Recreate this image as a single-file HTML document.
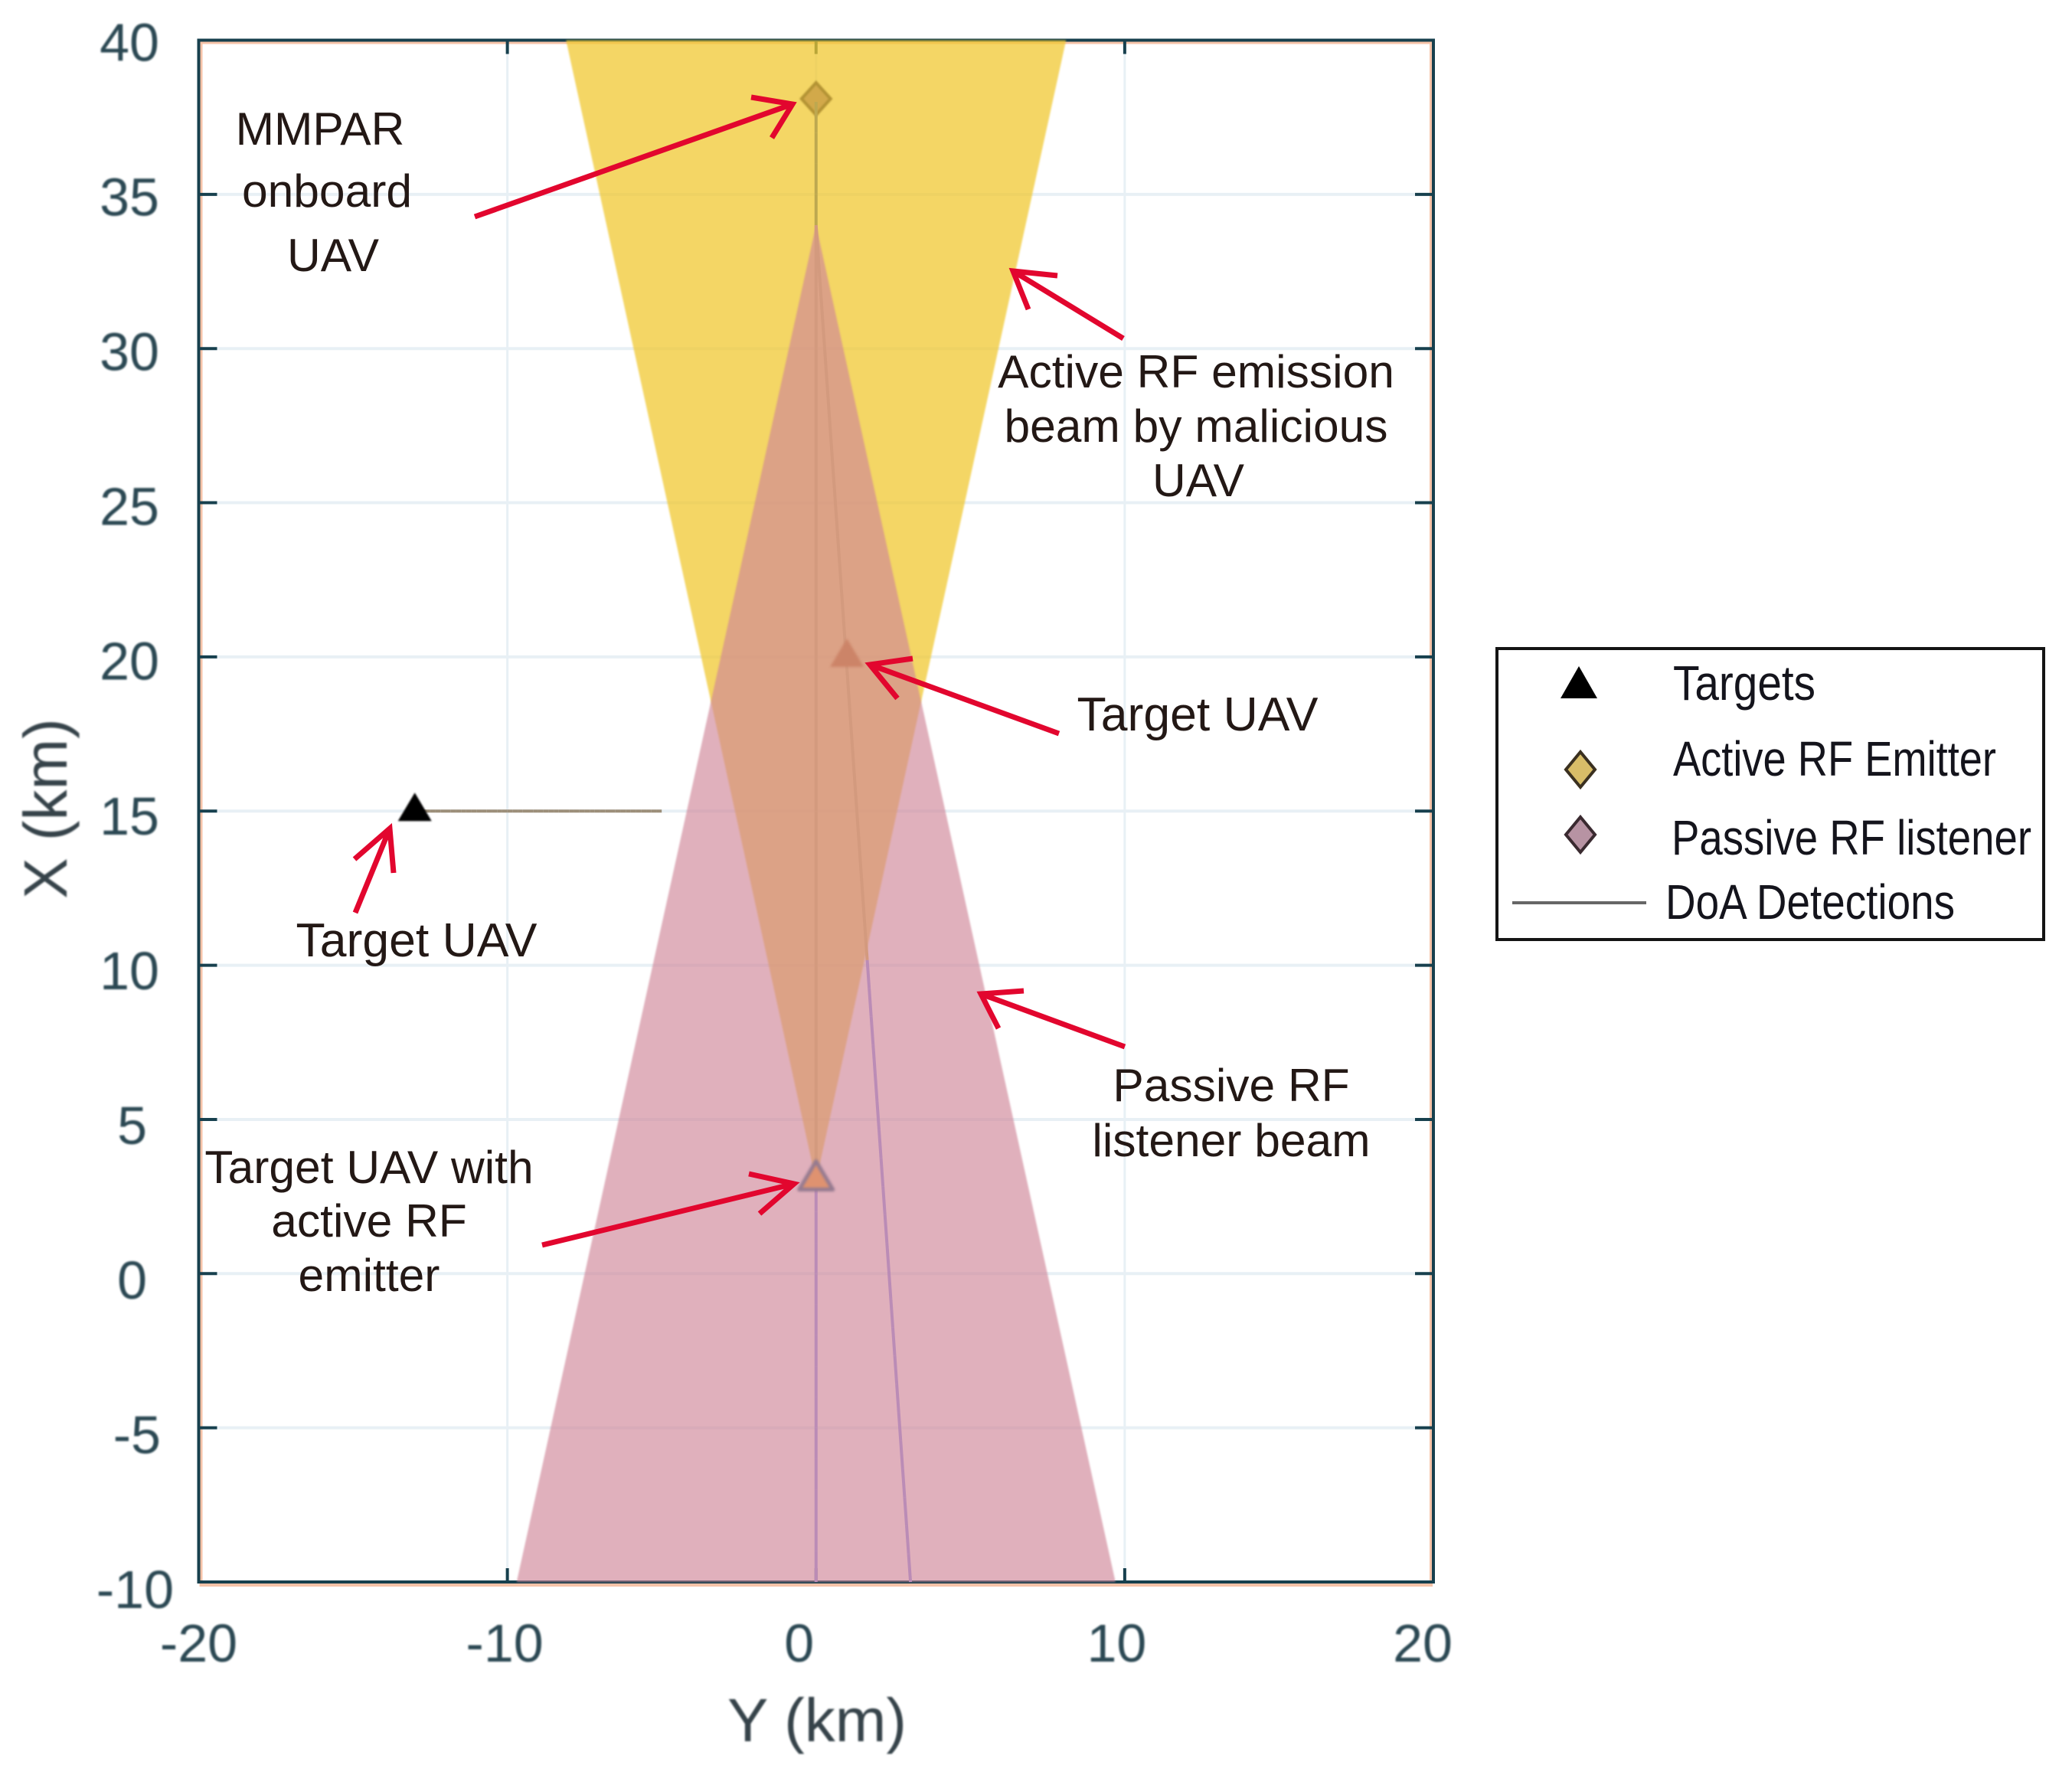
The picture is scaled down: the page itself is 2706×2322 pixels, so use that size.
<!DOCTYPE html>
<html lang="en">
<head>
<meta charset="utf-8">
<title>UAV RF beam geometry chart</title>
<style>
html,body{margin:0;padding:0;background:#fff;width:2706px;height:2322px;overflow:hidden}
svg{display:block}
text{font-family:"Liberation Sans",Arial,sans-serif}
.note{font-size:60.5px;fill:#231815;text-anchor:middle}
.note.wide{font-size:62.5px}
.legend-text{font-size:64px;fill:#14141c}
.tick-label{font-size:70px;fill:#2b4853}
.axis-title{font-size:80px;fill:#36434a;text-anchor:middle}
.soft{filter:blur(1px)}
.softer{filter:blur(1.6px)}
.arrow{fill:none;stroke:#e2062e;stroke-width:7;stroke-linecap:butt;stroke-linejoin:miter}
</style>
</head>
<body>
<svg id="chart" xmlns="http://www.w3.org/2000/svg" width="2706" height="2322" viewBox="0 0 2706 2322">
  <rect x="0" y="0" width="2706" height="2322" fill="#ffffff"/>
  <g id="plot"></g>

  <g>
    <g>
      <text class="note" x="418" y="189">MMPAR</text>
      <text class="note" x="427" y="270">onboard</text>
      <text class="note" x="435" y="354">UAV</text>
    </g>
    <g>
      <text class="note" x="1562" y="506">Active RF emission</text>
      <text class="note" x="1562" y="577">beam by malicious</text>
      <text class="note" x="1565" y="648">UAV</text>
    </g>
    <text class="note wide" x="1564" y="954">Target UAV</text>
    <text class="note wide" x="544" y="1249">Target UAV</text>
    <g>
      <text class="note" x="1608" y="1438">Passive RF</text>
      <text class="note" x="1608" y="1510">listener beam</text>
    </g>
    <g>
      <text class="note" x="482" y="1545">Target UAV with</text>
      <text class="note" x="482" y="1615">active RF</text>
      <text class="note" x="482" y="1686">emitter</text>
    </g>
    <path class="arrow" d="M620 283L1035 136M981 127L1035 136L1008 180"/>
    <path class="arrow" d="M1467 442L1323 354M1381 360L1323 354L1343 404"/>
    <path class="arrow" d="M1383 958L1136 868M1192 860L1136 868L1172 912"/>
    <path class="arrow" d="M464 1192L509 1082M463 1122L509 1082L514 1140"/>
    <path class="arrow" d="M1469 1367L1281 1298M1337 1294L1281 1298L1304 1343"/>
    <path class="arrow" d="M708 1626L1037 1546M978 1533L1037 1546L992 1585"/>
  </g>

  <g>
    <rect x="1955" y="847" width="714" height="380" fill="#ffffff" stroke="#141414" stroke-width="4"/>
    <path d="M2062 870L2086 912L2038 912Z" fill="#000000"/>
    <text class="legend-text" x="2185" y="914" textLength="186" lengthAdjust="spacingAndGlyphs">Targets</text>
    <path d="M2064 982L2083 1005L2064 1028L2045 1005Z" fill="#d8bd68" stroke="#3a3020" stroke-width="4"/>
    <text class="legend-text" x="2185" y="1013" textLength="422" lengthAdjust="spacingAndGlyphs">Active RF Emitter</text>
    <path d="M2064 1067L2083 1090L2064 1113L2045 1090Z" fill="#b793a3" stroke="#3a2a30" stroke-width="4"/>
    <text class="legend-text" x="2183" y="1116" textLength="470" lengthAdjust="spacingAndGlyphs">Passive RF listener</text>
    <line x1="1975" y1="1179" x2="2150" y2="1179" stroke="#666666" stroke-width="4"/>
    <text class="legend-text" x="2175" y="1200" textLength="378" lengthAdjust="spacingAndGlyphs">DoA Detections</text>
  </g>
</svg>

<script>
// Chart data (horizontal axis is Y km, vertical axis is X km)
const yTicks = [-20, -10, 0, 10, 20];
const xTicks = [40, 35, 30, 25, 20, 15, 10, 5, 0, -5, -10];
const activeBeamY = [-8.1, 8.1, 0];
const activeBeamX = [40, 40, 3];
const passiveBeamY = [-9.7, 9.7, 0];
const passiveBeamX = [-10, -10, 34];
const targetY = [-13, 1];
const targetX = [15, 20];
const targetEmitterY = [0];
const targetEmitterX = [3];
const activeEmitterY = [0];
const activeEmitterX = [38.1];
const doaStartY = [0, 0, -13];
const doaStartX = [38, 34, 15];
const doaEndY = [0, 3.06, -5];
const doaEndX = [-10, -10, 15];

const NS = 'http://www.w3.org/2000/svg';
const plot = document.getElementById('plot');
const L = 259.5, R = 1872, T = 52.5, B = 2066;
const yMin = -20, yMax = 20, xMin = -10, xMax = 40;
function sx(v) { return L + (v - yMin) / (yMax - yMin) * (R - L); }
function sy(v) { return B - (v - xMin) / (xMax - xMin) * (B - T); }

function make(tag, parent, props) {
  const el = document.createElementNS(NS, tag);
  for (const k in props) el.setAttribute(k, props[k]);
  parent.appendChild(el);
  return el;
}
function group(name) {
  const g = make('g', plot, {});
  
  
  return g;
}
function inTriangle(py, px, ys, xs) {
  let sign = 0;
  for (let i = 0; i < 3; i++) {
    const j = (i + 1) % 3;
    const c = (ys[j] - ys[i]) * (px - xs[i]) - (xs[j] - xs[i]) * (py - ys[i]);
    if (c !== 0) {
      if (sign !== 0 && Math.sign(c) !== sign) return false;
      sign = Math.sign(c);
    }
  }
  return true;
}
function beamPoints(ys, xs) {
  return ys.map(function (v, i) { return sx(v) + ',' + sy(xs[i]); }).join(' ');
}

// Gridlines
const gridGroup = group('gridlines');
yTicks.slice(1, -1).forEach(function (v) {
  const el = make('line', gridGroup, { x1: sx(v), x2: sx(v), y1: T, y2: B, stroke: '#e8f0f5', 'stroke-width': 3 });
  
  
});
xTicks.slice(1, -1).forEach(function (v) {
  const el = make('line', gridGroup, { x1: L, x2: R, y1: sy(v), y2: sy(v), stroke: '#e8f0f5', 'stroke-width': 4 });
  
  
});

// Axes frame with colour fringe
const axesGroup = group('axes-frame');
make('rect', axesGroup, { x: L + 3, y: T + 3, width: R - L - 6, height: B - T + 1, fill: 'none', stroke: '#f6c3a8', 'stroke-width': 4 });
const frame = make('rect', axesGroup, { x: L, y: T, width: R - L, height: B - T, fill: 'none', stroke: '#17404e', 'stroke-width': 4 });


yTicks.slice(1, -1).forEach(function (v) {
  make('line', axesGroup, { x1: sx(v), x2: sx(v), y1: T, y2: T + 18, stroke: '#17404e', 'stroke-width': 4 });
  make('line', axesGroup, { x1: sx(v), x2: sx(v), y1: B, y2: B - 18, stroke: '#17404e', 'stroke-width': 4 });
});
xTicks.slice(1, -1).forEach(function (v) {
  make('line', axesGroup, { x1: L, x2: L + 24, y1: sy(v), y2: sy(v), stroke: '#17404e', 'stroke-width': 4 });
  make('line', axesGroup, { x1: R, x2: R - 24, y1: sy(v), y2: sy(v), stroke: '#17404e', 'stroke-width': 4 });
});

// Active beam
const activeBeam = make('polygon', plot, { points: beamPoints(activeBeamY, activeBeamX), fill: 'rgb(240,200,50)', 'fill-opacity': 0.75, class: 'soft' });



// Active emitter marker under the passive beam
const activeGroup = group('active-emitters');
activeGroup.setAttribute('class', 'soft');
activeEmitterY.forEach(function (v, i) {
  const cx = sx(v), cy = sy(activeEmitterX[i]);
  const el = make('polygon', activeGroup, {
    points: cx + ',' + (cy - 21) + ' ' + (cx + 19) + ',' + cy + ' ' + cx + ',' + (cy + 21) + ' ' + (cx - 19) + ',' + cy,
    fill: '#d2a94a', stroke: '#b39334', 'stroke-width': 4
  });
  
  
});

// Passive beam
const passiveBeam = make('polygon', plot, { points: beamPoints(passiveBeamY, passiveBeamX), fill: 'rgb(207,133,152)', 'fill-opacity': 0.65, class: 'soft' });



// DoA detection lines, tinted by the beam they pass through
const doaGroup = group('doa-detections');
doaStartY.forEach(function (v, i) {
  const line = make('g', doaGroup, {});
  
  
  const steps = 48;
  for (let s = 0; s < steps; s++) {
    const a = s / steps, b = (s + 1) / steps, m = (a + b) / 2;
    const my = v + (doaEndY[i] - v) * m;
    const mx = doaStartX[i] + (doaEndX[i] - doaStartX[i]) * m;
    const yellow = inTriangle(my, mx, activeBeamY, activeBeamX);
    const pink = inTriangle(my, mx, passiveBeamY, passiveBeamX);
    let colour = '#9c8f7a';
    if (yellow && pink) colour = '#d39a7e';
    else if (yellow) colour = '#bda850';
    else if (pink) colour = '#bb8cb6';
    make('line', line, {
      x1: sx(v + (doaEndY[i] - v) * a),
      y1: sy(doaStartX[i] + (doaEndX[i] - doaStartX[i]) * a),
      x2: sx(v + (doaEndY[i] - v) * b),
      y2: sy(doaStartX[i] + (doaEndX[i] - doaStartX[i]) * b),
      stroke: colour, 'stroke-width': 4
    });
  }
});

// Target markers
const targetGroup = group('targets');
targetY.forEach(function (v, i) {
  const cx = sx(v), cy = sy(targetX[i]);
  const covered = inTriangle(v, targetX[i], passiveBeamY, passiveBeamX);
  const el = make('polygon', targetGroup, {
    points: cx + ',' + (cy - 24) + ' ' + (cx + 22) + ',' + (cy + 13) + ' ' + (cx - 22) + ',' + (cy + 13),
    fill: covered ? '#cc8468' : '#000000',
    class: covered ? 'softer' : 'soft'
  });
  
  
});
const emitterGroup = group('target-emitters');
emitterGroup.setAttribute('class', 'softer');
targetEmitterY.forEach(function (v, i) {
  const cx = sx(v), cy = sy(targetEmitterX[i]);
  const el = make('polygon', emitterGroup, {
    points: cx + ',' + (cy - 26) + ' ' + (cx + 22) + ',' + (cy + 11) + ' ' + (cx - 22) + ',' + (cy + 11),
    fill: '#df9270', stroke: '#957a90', 'stroke-width': 5, 'stroke-linejoin': 'round'
  });
  
  
});

// Tick labels
const labelGroup = group('tick-labels');
labelGroup.setAttribute('class', 'soft');
yTicks.forEach(function (v) {
  const el = make('text', labelGroup, {
    class: 'tick-label',
    x: sx(v) - 0.35 * (v + 20) - (v === 0 ? 15 : 0),
    y: 2170,
    'text-anchor': 'middle'
  });
  el.textContent = String(v);
  
  
});
xTicks.forEach(function (v) {
  let right = 208;
  if (v === -10) right = 227;
  else if (v === -5) right = 210;
  else if (v >= 0 && v < 10) right = 192;
  const el = make('text', labelGroup, {
    class: 'tick-label',
    x: right,
    y: sy(v) + 2 + (40 - v) * 0.14 + 25,
    'text-anchor': 'end'
  });
  el.textContent = String(v);
  
  
});

// Axis titles
const titleY = make('text', labelGroup, { class: 'axis-title', x: 1067, y: 2274 });
titleY.textContent = 'Y (km)';


const titleX = make('text', labelGroup, { class: 'axis-title', x: 0, y: 0, transform: 'translate(87,1056) rotate(-90)' });
titleX.textContent = 'X (km)';


</script>
</body>
</html>
